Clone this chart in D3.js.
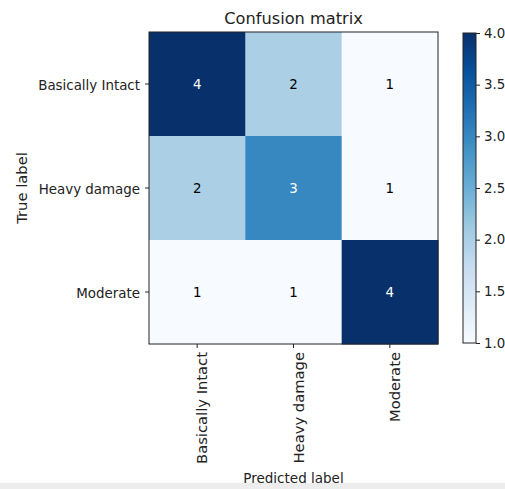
<!DOCTYPE html>
<html>
<head>
<meta charset="utf-8">
<script src="https://cdn.jsdelivr.net/npm/d3@7"></script>
<style>
  body { margin: 0; background: #fff; }
  svg { display: block; font-family: "DejaVu Sans", sans-serif; }
</style>
</head>
<body>
<div class="container"></div>
<script>
// confusion matrix data
var classes = ["Basically Intact", "Heavy damage", "Moderate"];
var matrix = [
    [4, 2, 1],
    [2, 3, 1],
    [1, 1, 4]
];
var cbarTicks = [1.0, 1.5, 2.0, 2.5, 3.0, 3.5, 4.0];

var width = 505, height = 489;
var plotL = 149, plotR = 438, plotT = 32, plotB = 344;
var fs = 13.4;      // tick label size
var stretch = 1.1;  // the screenshot is a bit taller than wide

var svg = d3.select(".container").append("svg")
    .attr("width", width)
    .attr("height", height);

// grey strip at the very bottom of the screenshot
svg.append("rect")
    .attr("x", 0).attr("y", 483)
    .attr("width", width).attr("height", 6)
    .attr("fill", "#ededed");

var x = d3.scaleBand().domain(classes).range([plotL, plotR]);
var y = d3.scaleBand().domain(classes).range([plotT, plotB]);

var vmin = d3.min(matrix, function(r) { return d3.min(r); });
var vmax = d3.max(matrix, function(r) { return d3.max(r); });

// matplotlib "Blues" is a linear ramp through the 9 brewer colours
var blues = d3.schemeBlues[9];
var color = d3.scaleLinear()
    .domain(d3.range(9).map(function(i) { return vmin + (vmax - vmin) * i / 8; }))
    .range(blues)
    .interpolate(d3.interpolateRgb);

var cells = [];
matrix.forEach(function(row, i) {
    row.forEach(function(v, j) {
        cells.push({ t: classes[i], p: classes[j], v: v });
    });
});

svg.selectAll(".cell")
    .data(cells)
    .enter()
    .append("rect")
    .attr("class", "cell")
    .attr("x", function(d) { return x(d.p); })
    .attr("y", function(d) { return y(d.t); })
    .attr("width", x.bandwidth() + 0.5)
    .attr("height", y.bandwidth() + 0.5)
    .attr("fill", function(d) { return color(d.v); });

var thresh = vmax / 2;
svg.selectAll(".val")
    .data(cells)
    .enter()
    .append("text")
    .attr("class", "val")
    .attr("x", function(d) { return x(d.p) + x.bandwidth() / 2; })
    .attr("y", function(d) { return y(d.t) + y.bandwidth() / 2; })
    .attr("dy", "0.36em")
    .attr("text-anchor", "middle")
    .attr("font-size", fs)
    .attr("fill", function(d) { return d.v > thresh ? "#fff" : "#000"; })
    .text(function(d) { return d.v; });

// frame
svg.append("rect")
    .attr("x", plotL).attr("y", plotT)
    .attr("width", plotR - plotL).attr("height", plotB - plotT)
    .attr("fill", "none")
    .attr("stroke", "#222")
    .attr("stroke-width", 1);

// axes
var yAxis = svg.append("g")
    .attr("transform", "translate(" + plotL + ",0)")
    .call(d3.axisLeft(y).tickSize(4).tickPadding(5));
yAxis.select(".domain").remove();
yAxis.selectAll("line").attr("stroke", "#222");
yAxis.selectAll("text").attr("font-size", fs).attr("fill", "#222")
    .style("font-family", "DejaVu Sans")
    .attr("dy", "0.45em");

var xAxis = svg.append("g")
    .attr("transform", "translate(0," + plotB + ")")
    .call(d3.axisBottom(x).tickSize(4).tickPadding(3));
xAxis.select(".domain").remove();
xAxis.selectAll("line").attr("stroke", "#222");
xAxis.selectAll("text")
    .attr("font-size", fs).attr("fill", "#222")
    .style("font-family", "DejaVu Sans")
    .attr("text-anchor", "end")
    .attr("transform", "rotate(-90) scale(" + stretch + ",1)")
    .attr("x", -8 / stretch)
    .attr("y", 0)
    .attr("dy", "0.76em");

svg.append("text")
    .attr("x", (plotL + plotR) / 2)
    .attr("y", 24)
    .attr("text-anchor", "middle")
    .attr("font-size", 16.2)
    .attr("fill", "#222")
    .text("Confusion matrix");

svg.append("text")
    .attr("x", (plotL + plotR) / 2)
    .attr("y", 483)
    .attr("text-anchor", "middle")
    .attr("font-size", 13.5)
    .attr("fill", "#222")
    .text("Predicted label");

svg.append("text")
    .attr("transform", "translate(27," + (plotT + plotB) / 2 + ") rotate(-90) scale(" + stretch + ",1)")
    .attr("text-anchor", "middle")
    .attr("font-size", fs)
    .attr("fill", "#222")
    .text("True label");

// colorbar
var cbX = 463, cbW = 13;
var cy = d3.scaleLinear().domain([vmin, vmax]).range([plotB - 1, plotT + 1]);
var grad = svg.append("defs").append("linearGradient")
    .attr("id", "cbar")
    .attr("x1", 0).attr("y1", 1).attr("x2", 0).attr("y2", 0);
blues.forEach(function(c, i) {
    grad.append("stop").attr("offset", i / 8).attr("stop-color", c);
});
svg.append("rect")
    .attr("x", cbX).attr("y", cy(vmax))
    .attr("width", cbW).attr("height", cy(vmin) - cy(vmax))
    .attr("fill", "url(#cbar)")
    .attr("stroke", "#222")
    .attr("stroke-width", 1);

var cAxis = svg.append("g")
    .attr("transform", "translate(" + (cbX + cbW) + ",0)")
    .call(d3.axisRight(cy).tickValues(cbarTicks).tickFormat(d3.format(".1f")).tickSize(4).tickPadding(4));
cAxis.select(".domain").remove();
cAxis.selectAll("line").attr("stroke", "#222");
cAxis.selectAll("text").attr("font-size", fs).attr("fill", "#222")
    .style("font-family", "DejaVu Sans");
</script>
</body>
</html>
